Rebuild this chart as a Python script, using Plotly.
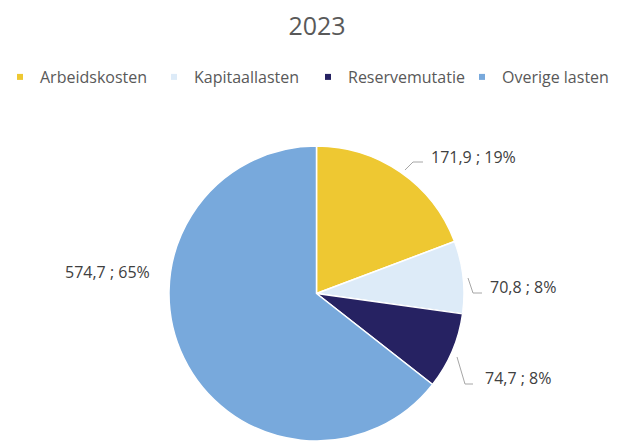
import plotly.graph_objects as go

# ---- data ----
categories = ["Arbeidskosten", "Kapitaallasten", "Reservemutatie", "Overige lasten"]
values = [171.9, 70.8, 74.7, 574.7]
pct_labels = [19, 8, 8, 65]  # percentages as printed on the chart
colors = ["#EEC832", "#DDEBF8", "#262262", "#78A9DC"]
title_text = "2023"

W, H = 619, 441
FONT = "Open Sans"

def px(x):
    return x / W

def py(y):
    return 1 - y / H

fig = go.Figure()

# pie geometry (pixels): center (316.5, 293.5), radius 147.5
cx, cy, r = 316.5, 293.5, 147.5
fig.add_trace(go.Pie(
    labels=categories,
    values=values,
    sort=False,
    direction="clockwise",
    rotation=0,
    marker=dict(colors=colors, line=dict(color="white", width=1.5)),
    textinfo="none",
    showlegend=False,
    domain=dict(x=[px(cx - r), px(cx + r)], y=[py(cy + r), py(cy - r)]),
))

# legend entries (small square markers)
for cat, col in zip(categories, colors):
    fig.add_trace(go.Scatter(
        x=[None], y=[None], mode="markers", name=cat,
        marker=dict(symbol="square", size=6, color=col),
        showlegend=True,
    ))

# data labels
label_pos = [(429, 157), (488, 287), (483, 378), (63, 272)]
def fmt(v, p):
    return f"{v:.1f}".replace(".", ",") + f" ; {p}%"

for v, p, (lx, ly) in zip(values, pct_labels, label_pos):
    fig.add_annotation(
        x=px(lx), y=py(ly), xref="paper", yref="paper",
        text=fmt(v, p), showarrow=False, xanchor="left", yanchor="middle",
        font=dict(family=FONT, size=16, color="#404040"),
    )

# leader lines
leaders = [
    [(405, 170), (413, 162), (423, 162)],
    [(468, 278), (473, 293), (482, 293)],
    [(457, 357), (465, 384), (473, 384)],
]
for pts in leaders:
    path = "M " + " L ".join(f"{px(x):.5f},{py(y):.5f}" for x, y in pts)
    fig.add_shape(type="path", path=path, xref="paper", yref="paper",
                  line=dict(color="#A6A6A6", width=1))

fig.update_layout(
    width=W, height=H,
    margin=dict(l=0, r=0, t=0, b=0),
    paper_bgcolor="white", plot_bgcolor="white",
    title=dict(text=title_text, x=px(317), xanchor="center", y=py(26), yanchor="middle",
               font=dict(family=FONT, size=25, color="#595959")),
    legend=dict(orientation="h", x=0, xanchor="left", y=py(77), yanchor="middle",
                font=dict(family=FONT, size=16, color="#595959"),
                itemwidth=30, entrywidth=109, bgcolor="rgba(0,0,0,0)"),
    xaxis=dict(visible=False), yaxis=dict(visible=False),
    separators=",.",
)

fig.write_html(
    "out.html",
    config={"displayModeBar": False},
    post_script="document.body.style.margin='0';document.body.style.overflow='hidden';",
)
